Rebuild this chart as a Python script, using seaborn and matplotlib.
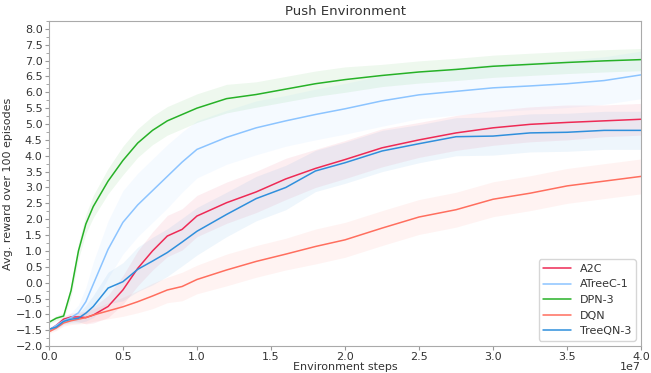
import matplotlib
matplotlib.use("Agg")
import matplotlib.pyplot as plt
from matplotlib.ticker import MultipleLocator
import seaborn as sns
import pandas as pd
import numpy as np

# x in units of 1e7 environment steps
steps = [0, 0.05, 0.1, 0.15, 0.2, 0.25, 0.3, 0.4, 0.5, 0.6, 0.7, 0.8, 0.9, 1.0,
         1.2, 1.4, 1.6, 1.8, 2.0, 2.25, 2.5, 2.75, 3.0, 3.25, 3.5, 3.75, 4.0]

a2c = [-1.5, -1.35, -1.15, -1.08, -1.08, -1.1, -1.02, -0.75, -0.23, 0.45, 1.0, 1.47, 1.68, 2.1,
       2.52, 2.86, 3.27, 3.6, 3.88, 4.25, 4.5, 4.72, 4.88, 4.99, 5.05, 5.1, 5.15]
atreec = [-1.5, -1.35, -1.2, -1.1, -0.95, -0.6, -0.05, 1.05, 1.9, 2.45, 2.9, 3.35, 3.8, 4.2,
          4.58, 4.88, 5.1, 5.3, 5.48, 5.73, 5.92, 6.03, 6.14, 6.2, 6.27, 6.37, 6.55]
dpn = [-1.25, -1.12, -1.05, -0.25, 1.0, 1.85, 2.4, 3.2, 3.85, 4.4, 4.8, 5.1, 5.3, 5.5,
       5.8, 5.93, 6.1, 6.27, 6.4, 6.53, 6.64, 6.72, 6.82, 6.88, 6.94, 6.99, 7.03]
dqn = [-1.55, -1.43, -1.27, -1.2, -1.15, -1.1, -1.02, -0.89, -0.76, -0.6, -0.42, -0.23, -0.12, 0.1,
       0.4, 0.67, 0.9, 1.14, 1.35, 1.72, 2.07, 2.3, 2.63, 2.82, 3.05, 3.2, 3.35]
treeqn = [-1.47, -1.4, -1.22, -1.15, -1.12, -0.96, -0.75, -0.17, 0.03, 0.42, 0.68, 0.95, 1.28, 1.62,
          2.15, 2.65, 3.0, 3.52, 3.78, 4.15, 4.38, 4.6, 4.62, 4.72, 4.74, 4.8, 4.8]

# half-width of the shaded band around each mean curve
a2c_sd = [0.05, 0.08, 0.1, 0.12, 0.15, 0.2, 0.25, 0.35, 0.45, 0.55, 0.6, 0.65, 0.65, 0.65,
          0.65, 0.65, 0.65, 0.6, 0.6, 0.6, 0.55, 0.55, 0.55, 0.55, 0.55, 0.5, 0.5]
atreec_sd = [0.05, 0.08, 0.1, 0.15, 0.25, 0.45, 0.7, 0.9, 1.0, 1.0, 1.0, 1.0, 0.95, 0.9,
             0.85, 0.85, 0.8, 0.8, 0.8, 0.8, 0.75, 0.75, 0.75, 0.75, 0.75, 0.75, 0.75]
dpn_sd = [0.05, 0.08, 0.1, 0.2, 0.25, 0.3, 0.35, 0.4, 0.45, 0.45, 0.45, 0.45, 0.45, 0.45,
          0.45, 0.4, 0.4, 0.4, 0.4, 0.35, 0.35, 0.35, 0.35, 0.35, 0.35, 0.35, 0.35]
dqn_sd = [0.05, 0.08, 0.1, 0.12, 0.15, 0.18, 0.2, 0.25, 0.3, 0.35, 0.4, 0.4, 0.45, 0.45,
          0.5, 0.5, 0.5, 0.55, 0.55, 0.55, 0.55, 0.55, 0.55, 0.55, 0.55, 0.55, 0.55]
treeqn_sd = [0.05, 0.08, 0.1, 0.12, 0.15, 0.25, 0.35, 0.5, 0.6, 0.7, 0.75, 0.75, 0.75, 0.75,
             0.7, 0.7, 0.7, 0.65, 0.65, 0.65, 0.6, 0.6, 0.6, 0.6, 0.6, 0.6, 0.6]

methods = ["A2C", "ATreeC-1", "DPN-3", "DQN", "TreeQN-3"]
means = [a2c, atreec, dpn, dqn, treeqn]
spreads = [a2c_sd, atreec_sd, dpn_sd, dqn_sd, treeqn_sd]
colors = ["#ee2a55", "#8cc4ff", "#27b127", "#ff6e5e", "#2f8fdc"]

rows = []
for name, m, s in zip(methods, means, spreads):
    for x, v, e in zip(steps, m, s):
        rows.append({"method": name, "steps": x * 1e7, "reward": v, "lo": v - e, "hi": v + e})
df = pd.DataFrame(rows)

sns.set_style("white")
plt.rcParams["font.family"] = ["DejaVu Sans"]
fig = plt.figure(figsize=(6.51, 3.73), dpi=100)
ax = fig.add_axes([0.075, 0.072, 0.910, 0.872])

palette = dict(zip(methods, colors))
for name in methods:
    sub = df[df["method"] == name]
    ax.fill_between(sub["steps"], sub["lo"], sub["hi"], color=palette[name], alpha=0.08, lw=0)
sns.lineplot(data=df, x="steps", y="reward", hue="method", palette=palette,
             hue_order=methods, lw=1.1, ax=ax, legend=True)

ax.set_xlim(0, 4e7)
ax.set_ylim(-2, 8.25)
ax.yaxis.set_major_locator(MultipleLocator(0.5))
ax.yaxis.set_minor_locator(MultipleLocator(0.25))
ax.xaxis.set_major_locator(MultipleLocator(0.5e7))
ax.tick_params(axis="both", which="major", direction="out", length=3, width=0.8, pad=1.5,
               colors="#999999", labelcolor="#333333", labelsize=8, left=True, bottom=True)
ax.tick_params(axis="y", which="minor", direction="out", length=2, width=0.6, color="#999999", left=True)
for sp in ax.spines.values():
    sp.set_color("#aaaaaa")
    sp.set_linewidth(0.8)

# the scientific offset would fall off the canvas, so place it by hand
ax.xaxis.get_offset_text().set_visible(False)
ax.text(1.0, -0.072, "1e7", transform=ax.transAxes, ha="right", va="baseline",
        fontsize=8, color="#333333")

ax.set_title("Push Environment", fontsize=9.5, color="#333333", pad=4)
ax.set_xlabel("Environment steps", fontsize=8, color="#333333", labelpad=0)
ax.set_ylabel("Avg. reward over 100 episodes", fontsize=8, color="#333333", labelpad=2)

leg = ax.legend(loc="lower right", fontsize=8, frameon=True, handlelength=2.5)
leg.get_frame().set_edgecolor("#cccccc")
for t in leg.get_texts():
    t.set_color("#333333")

fig.savefig("out.png", dpi=100)
